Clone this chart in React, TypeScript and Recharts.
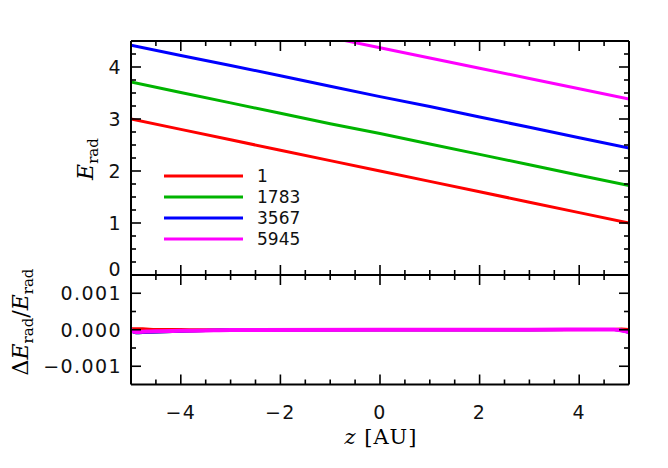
import React from 'react';
import { LineChart, Line, XAxis, YAxis } from 'recharts';

// ---------- data ----------
const zTop = [-5, -4, -3, -2, -1, 0, 1, 2, 3, 4, 5];
const eRad1 = [3.0, 2.8, 2.6, 2.4, 2.2, 2.0, 1.8, 1.6, 1.4, 1.2, 1.0];
const eRad1783 = [3.71, 3.51, 3.31, 3.11, 2.91, 2.72, 2.52, 2.32, 2.12, 1.92, 1.72];
const eRad3567 = [4.42, 4.22, 4.03, 3.83, 3.63, 3.43, 3.24, 3.04, 2.84, 2.64, 2.44];
const eRad5945 = [5.355, 5.158, 4.961, 4.764, 4.567, 4.37, 4.173, 3.976, 3.779, 3.582, 3.385];

const zBottom = [-5, -4.9, -4.7, -4.5, -4, -3.5, -3, 0, 3, 4.5, 4.7, 4.85, 5];
const dE1 = [0.00003, 0.00003, 0.00002, 0.00001, 0.000005, 0, 0, 0, 0, 0.000005, 0.00001, 0.00002, 0.00001];
const dE1783 = [-0.00003, -0.00008, -0.00007, -0.00006, -0.00004, -0.00002, -0.00001, 0, 0, 0.00001, 0.00001, -0.00001, -0.00008];
const dE3567 = [-0.00003, -0.00008, -0.00007, -0.00006, -0.00004, -0.00002, -0.00001, 0, 0, 0.00001, 0.00001, -0.00002, -0.00007];
const dE5945 = [-0.00001, -0.00006, -0.00005, -0.00004, -0.00003, -0.00002, -0.00001, 0, 0, 0.00001, 0.00001, -0.00002, -0.00006];

const seriesNames = ['1', '1783', '3567', '5945'];
const seriesColors = ['#ff0000', '#00b400', '#0000ff', '#ff00ff'];

const xMajorTicks = [-4, -2, 0, 2, 4];
const xMinorTicks = [-4.5, -3.5, -3, -2.5, -1.5, -1, -0.5, 0.5, 1, 1.5, 2.5, 3, 3.5, 4.5];
const yTopMajorTicks = [0, 1, 2, 3, 4];
const yTopMinorTicks = [0.25, 0.5, 0.75, 1.25, 1.5, 1.75, 2.25, 2.5, 2.75, 3.25, 3.5, 3.75, 4.25];
const yBotMajorTicks = [-0.001, 0, 0.001];
const yBotMinorTicks = [-0.0005, 0.0005];

// ---------- tables ----------
const topSeries = [eRad1, eRad1783, eRad3567, eRad5945];
const botSeries = [dE1, dE1783, dE3567, dE5945];
const topData = zTop.map((z, i) => {
  const row: any = { z };
  topSeries.forEach((s, k) => (row['s' + k] = s[i]));
  return row;
});
const botData = zBottom.map((z, i) => {
  const row: any = { z };
  botSeries.forEach((s, k) => (row['s' + k] = s[i]));
  return row;
});

const xTicks = [...xMajorTicks, ...xMinorTicks].sort((a, b) => a - b);
const yTopTicks = [...yTopMajorTicks, ...yTopMinorTicks].sort((a, b) => a - b);
const yBotTicks = [...yBotMajorTicks, ...yBotMinorTicks].sort((a, b) => a - b);

const isIn = (list: number[], v: number) => list.some((m) => Math.abs(m - v) < 1e-9);
const MINUS = '\u2212';
const fmtX = (v: number) => (v < 0 ? MINUS + Math.abs(v) : String(v));
const fmtYBot = (v: number) => (Math.abs(v) < 1e-12 ? '0.000' : (v < 0 ? MINUS : '') + Math.abs(v).toFixed(3));

const TICK_FONT = { fontFamily: 'DejaVu Sans', fontSize: 19, fill: '#111', letterSpacing: 1.4 };
const MAJ = 10;
const MIN = 5;

const makeXTick = (dir: number, withLabels: boolean) => (props: any) => {
  const { x, y, payload } = props;
  const v = payload.value;
  const major = isIn(xMajorTicks, v);
  return (
    <g>
      <line x1={x} x2={x} y1={y} y2={y + dir * (major ? MAJ : MIN)} stroke="#000" strokeWidth={1.6} />
      {withLabels && major && (
        <text x={x} y={y + 27} textAnchor="middle" dominantBaseline="central" {...TICK_FONT}>
          {fmtX(v)}
        </text>
      )}
    </g>
  );
};

const makeYTick = (dir: number, majors: number[], fmt: ((v: number) => string) | null, zeroShift = 0) => (props: any) => {
  const { x, y, payload } = props;
  const v = payload.value;
  const major = isIn(majors, v);
  return (
    <g>
      <line x1={x} x2={x + dir * (major ? MAJ : MIN)} y1={y} y2={y} stroke="#000" strokeWidth={1.6} />
      {fmt && major && (
        <text
          x={x - 9}
          y={y + (Math.abs(v) < 1e-12 ? zeroShift : 0)}
          textAnchor="end"
          dominantBaseline="central"
          {...TICK_FONT}
        >
          {fmt(v)}
        </text>
      )}
    </g>
  );
};

const axisLine = { stroke: '#000', strokeWidth: 2 };

const commonX = {
  dataKey: 'z',
  type: 'number' as const,
  domain: [-5, 5] as [number, number],
  allowDataOverflow: true,
  ticks: xTicks,
  interval: 0 as const,
  tickSize: 0,
  tickMargin: 0,
  tickLine: false,
  axisLine,
};

export default function App() {
  return (
    <div style={{ position: 'absolute', left: 0, top: 0, width: 668, height: 468, background: '#fff' }}>
      <div style={{ position: 'absolute', left: 0, top: 0 }}>
        <LineChart width={668} height={285} data={topData} margin={{ top: 31, right: 29, bottom: 0, left: 0 }}>
          <XAxis {...commonX} height={10} tick={makeXTick(-1, false)} />
          <XAxis {...commonX} xAxisId="top" orientation="top" height={10} tick={makeXTick(1, false)} />
          <YAxis
            type="number"
            domain={[0, 4.5]}
            allowDataOverflow
            ticks={yTopTicks}
            interval={0}
            width={131}
            tickSize={0}
            tickMargin={0}
            tickLine={false}
            axisLine={axisLine}
            tick={makeYTick(1, yTopMajorTicks, (v) => String(v), -6)}
          />
          <YAxis
            yAxisId="right"
            orientation="right"
            type="number"
            domain={[0, 4.5]}
            allowDataOverflow
            ticks={yTopTicks}
            interval={0}
            width={10}
            tickSize={0}
            tickMargin={0}
            tickLine={false}
            axisLine={axisLine}
            tick={makeYTick(-1, yTopMajorTicks, null)}
          />
          {seriesNames.map((n, k) => (
            <Line
              key={n}
              name={n}
              dataKey={'s' + k}
              type="linear"
              stroke={seriesColors[k]}
              strokeWidth={3}
              dot={false}
              isAnimationActive={false}
            />
          ))}
        </LineChart>
      </div>
      <div style={{ position: 'absolute', left: 0, top: 265 }}>
        <LineChart width={668} height={203} data={botData} margin={{ top: 0, right: 29, bottom: 43.5, left: 0 }}>
          <XAxis {...commonX} height={40} tick={makeXTick(-1, true)} />
          <XAxis {...commonX} xAxisId="top" orientation="top" height={10} tick={makeXTick(1, false)} />
          <YAxis
            type="number"
            domain={[-0.0015, 0.0015]}
            allowDataOverflow
            ticks={yBotTicks}
            interval={0}
            width={131}
            tickSize={0}
            tickMargin={0}
            tickLine={false}
            axisLine={axisLine}
            tick={makeYTick(1, yBotMajorTicks, fmtYBot)}
          />
          <YAxis
            yAxisId="right"
            orientation="right"
            type="number"
            domain={[-0.0015, 0.0015]}
            allowDataOverflow
            ticks={yBotTicks}
            interval={0}
            width={10}
            tickSize={0}
            tickMargin={0}
            tickLine={false}
            axisLine={axisLine}
            tick={makeYTick(-1, yBotMajorTicks, null)}
          />
          {seriesNames.map((n, k) => (
            <Line
              key={n}
              name={n}
              dataKey={'s' + k}
              type="monotone"
              stroke={seriesColors[k]}
              strokeWidth={k === 3 ? 4 : 3}
              dot={false}
              isAnimationActive={false}
            />
          ))}
        </LineChart>
      </div>
      <svg width={668} height={468} style={{ position: 'absolute', left: 0, top: 0, pointerEvents: 'none' }}>
        {/* legend */}
        {seriesNames.map((n, k) => (
          <g key={n}>
            <line x1={164} x2={243} y1={176 + k * 21} y2={176 + k * 21} stroke={seriesColors[k]} strokeWidth={3} />
            <text x={257} y={176 + k * 21} dominantBaseline="central" fontFamily="DejaVu Sans" fontSize={17} fill="#111">
              {n}
            </text>
          </g>
        ))}
        {/* y title top */}
        <text transform="translate(93,159) rotate(-90)" textAnchor="middle" fontFamily="DejaVu Serif" fontSize={22} fill="#000">
          <tspan fontStyle="italic">E</tspan>
          <tspan fontSize={15} dy={5}>rad</tspan>
        </text>
        {/* y title bottom */}
        <text transform="translate(28,322) rotate(-90)" textAnchor="middle" fontFamily="DejaVu Serif" fontSize={22} fill="#000">
          <tspan>Δ</tspan>
          <tspan fontStyle="italic">E</tspan>
          <tspan fontSize={15} dy={5}>rad</tspan>
          <tspan dy={-5}>/</tspan>
          <tspan fontStyle="italic">E</tspan>
          <tspan fontSize={15} dy={5}>rad</tspan>
        </text>
        {/* x title */}
        <text x={381} y={444} textAnchor="middle" fontFamily="DejaVu Serif" fontSize={21} fill="#000" letterSpacing={1}>
          <tspan fontStyle="italic">z</tspan>
          <tspan> [AU]</tspan>
        </text>
      </svg>
    </div>
  );
}
